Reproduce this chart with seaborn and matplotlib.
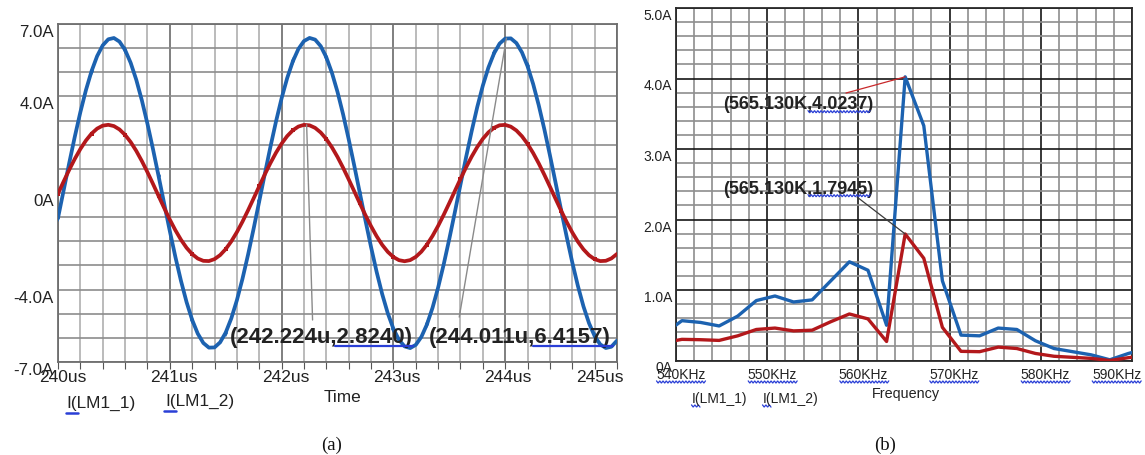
import numpy as np
import matplotlib
matplotlib.use("Agg")
import matplotlib.pyplot as plt
from matplotlib.lines import Line2D
from matplotlib.ticker import MultipleLocator
from matplotlib.transforms import offset_copy
import seaborn as sns

# ---------------- (a) transient currents, 50 ns sample step ----------------
t_us = np.linspace(240.0, 245.0, 101)
i_lm1_1 = [
    -1.036, 0.100, 1.233, 2.327, 3.349, 4.264, 5.046, 5.670, 6.115, 6.367,
    6.420, 6.270, 5.924, 5.392, 4.691, 3.840, 2.869, 1.809, 0.692, -0.448,
    -1.573, -2.649, -3.640, -4.519, -5.255, -5.825, -6.213, -6.405, -6.396, -6.186,
    -5.781, -5.194, -4.443, -3.555, -2.554, -1.472, -0.344, 0.794, 1.908, 2.962,
    3.923, 4.760, 5.447, 5.964, 6.293, 6.423, 6.353, 6.082, 5.620, 4.981,
    4.187, 3.260, 2.230, 1.132, -0.003, -1.138, -2.238, -3.266, -4.192, -4.986,
    -5.624, -6.084, -6.354, -6.423, -6.291, -5.961, -5.443, -4.755, -3.916, -2.956,
    -1.901, -0.788, 0.352, 1.479, 2.560, 3.561, 4.448, 5.199, 5.783, 6.188,
    6.396, 6.405, 6.211, 5.823, 5.251, 4.514, 3.635, 2.642, 1.565, 0.440,
    -0.699, -1.815, -2.876, -3.846, -4.696, -5.395, -5.927, -6.272, -6.420, -6.367,
    -6.113,
]
i_lm1_2 = [
    -0.026, 0.473, 0.958, 1.412, 1.822, 2.175, 2.460, 2.667, 2.790, 2.825,
    2.772, 2.632, 2.408, 2.110, 1.745, 1.324, 0.863, 0.374, -0.127, -0.624,
    -1.101, -1.543, -1.936, -2.270, -2.531, -2.714, -2.810, -2.819, -2.738, -2.572,
    -2.325, -2.004, -1.621, -1.187, -0.716, -0.221, 0.280, 0.772, 1.240, 1.669,
    2.045, 2.358, 2.596, 2.752, 2.822, 2.803, 2.697, 2.505, 2.235, 1.893,
    1.494, 1.046, 0.566, 0.069, -0.431, -0.918, -1.376, -1.790, -2.149, -2.439,
    -2.652, -2.783, -2.826, -2.780, -2.647, -2.430, -2.138, -1.778, -1.362, -0.903,
    -0.416, 0.085, 0.582, 1.061, 1.507, 1.905, 2.244, 2.512, 2.701, 2.805,
    2.821, 2.749, 2.590, 2.349, 2.034, 1.655, 1.226, 0.757, 0.264, -0.237,
    -0.731, -1.201, -1.634, -2.016, -2.334, -2.579, -2.742, -2.820, -2.808, -2.709,
    -2.524,
]
# cursor readouts: (time, value) and where each label's leader ends
cursor_a_t = [242.224, 244.011]
cursor_a_val = [2.8240, 6.4157]
cursor_a_text = ["(242.224u,2.8240)", "(244.011u,6.4157)"]
cursor_a_lead = [(242.277, -5.26), (243.589, -5.14)]
cursor_a_pos = [(241.536, -5.97), (243.32, -5.97)]

time_ticks = [240, 241, 242, 243, 244, 245]
time_tick_labels = ["240us", "241us", "242us", "243us", "244us", "245us"]
a_yticks = [-7, -4, 0, 4, 7]
a_ytick_labels = ["-7.0A", "-4.0A", "0A", "4.0A", "7.0A"]

# ---------------- (b) spectrum ----------------
freq_khz = [538.61, 540.65, 542.69, 544.73, 546.77, 548.81, 550.85, 552.89, 554.93,
            556.97, 559.01, 561.05, 563.09, 565.13, 567.17, 569.21, 571.25, 573.29,
            575.33, 577.37, 579.41, 581.45, 583.49, 585.53, 587.57, 589.61, 591.65]
amp_lm1_1 = [0.37, 0.565, 0.54, 0.49, 0.63, 0.85, 0.915, 0.83, 0.86,
             1.13, 1.40, 1.28, 0.50, 4.0237, 3.33, 1.13, 0.36, 0.35,
             0.46, 0.44, 0.28, 0.17, 0.125, 0.08, 0.01, 0.10, 0.17]
amp_lm1_2 = [0.25, 0.30, 0.295, 0.285, 0.35, 0.44, 0.46, 0.42, 0.43,
             0.55, 0.66, 0.59, 0.27, 1.7945, 1.45, 0.47, 0.13, 0.125,
             0.19, 0.17, 0.10, 0.06, 0.045, 0.03, 0.0, 0.04, 0.07]
cursor_b_f = [565.130, 565.130]
cursor_b_val = [4.0237, 1.7945]
cursor_b_text = ["(565.130K,4.0237)", "(565.130K,1.7945)"]
cursor_b_lead = [(558.64, 3.794), (559.85, 2.319)]
cursor_b_pos = [(545.15, 3.63), (545.15, 2.426)]

freq_ticks = [540, 550, 560, 570, 580, 590]
freq_tick_labels = ["540KHz", "550KHz", "560KHz", "570KHz", "580KHz", "590KHz"]
b_yticks = [0, 1, 2, 3, 4, 5]
b_ytick_labels = ["0A", "1.0A", "2.0A", "3.0A", "4.0A", "5.0A"]

# ---------------- styling ----------------
sns.set_theme(style="white")
plt.rcParams["font.family"] = ["Liberation Sans", "DejaVu Sans"]

BLUE = "#1c62b0"
RED = "#b3181b"
TXT = "#222222"
ULINE = "#2a3fd6"

W, H = 1145, 455
fig = plt.figure(figsize=(W / 100, H / 100), dpi=100)
fig.patch.set_facecolor("white")


def px_axes(x0, y0, x1, y1):
    return fig.add_axes([x0 / W, 1 - y1 / H, (x1 - x0) / W, (y1 - y0) / H])


def fig_line(xs, ys, **kw):
    xs = np.asarray(xs, float)
    ys = np.asarray(ys, float)
    fig.add_artist(Line2D(xs / W, 1 - ys / H, **kw))


def squiggle(x0, x1, y, color=ULINE, amp=1.1, step=1.6, lw=0.9):
    n = int((x1 - x0) / step) + 1
    xs = np.linspace(x0, x1, n)
    ys = y + amp * np.where(np.arange(n) % 2 == 0, -1.0, 1.0)
    fig_line(xs, ys, color=color, lw=lw, solid_joinstyle="miter")


def ytick_texts(ax, vals, labels, size, dx):
    tr = offset_copy(ax.get_yaxis_transform(), fig=fig, x=dx, y=-1, units="dots")
    for v, lab in zip(vals, labels):
        ax.text(0, v, lab, transform=tr, ha="right", va="top", fontsize=size,
                color=TXT, clip_on=False)


def xtick_texts(ax, vals, labels, size, dy, shifts):
    for v, lab, sh in zip(vals, labels, shifts):
        tr = offset_copy(ax.get_xaxis_transform(), fig=fig, x=sh, y=dy, units="dots")
        ax.text(v, 0, lab, transform=tr, ha="center", va="center", fontsize=size,
                color=TXT, clip_on=False)


# ================= panel (a) =================
axa = px_axes(58, 24, 617, 362)
axa.set_xlim(240, 245)
axa.set_ylim(-7, 7)
axa.xaxis.set_major_locator(MultipleLocator(1))
axa.xaxis.set_minor_locator(MultipleLocator(0.2))
axa.set_yticks(a_yticks)
axa.yaxis.set_minor_locator(MultipleLocator(1))
axa.grid(which="major", axis="x", color="#6a6a6a", lw=1.2)
axa.grid(which="minor", axis="x", color="#a8a8a8", lw=1.1)
axa.grid(which="both", axis="y", color="#8c8c8c", lw=1.2)
axa.set_axisbelow(True)
axa.tick_params(axis="x", which="both", direction="out", length=5, width=0.8,
                color="#555555", labelbottom=False, bottom=True)
axa.tick_params(axis="y", which="both", length=0, labelleft=False)
for s in axa.spines.values():
    s.set_color("#6e6e6e")
    s.set_linewidth(1.3)

sns.lineplot(x=t_us, y=i_lm1_1, ax=axa, color=BLUE, lw=2.7, estimator=None,
             errorbar=None, marker="d", markersize=4, markeredgewidth=0,
             markevery=6, zorder=3)
sns.lineplot(x=t_us, y=i_lm1_2, ax=axa, color=RED, lw=2.7, estimator=None,
             errorbar=None, marker="s", markersize=3.5, markeredgewidth=0,
             markevery=6, zorder=4)
axa.set_xlabel("")
axa.set_ylabel("")

for (tt, vv), (lx, ly) in zip(zip(cursor_a_t, cursor_a_val), cursor_a_lead):
    axa.plot([tt, lx], [vv, ly], color="#8a8a8a", lw=1.0, zorder=5)
for txt, (px_, py_) in zip(cursor_a_text, cursor_a_pos):
    axa.text(px_, py_, txt, ha="left", va="center", fontsize=16,
             fontweight="bold", color=TXT, zorder=6)

ytick_texts(axa, a_yticks, a_ytick_labels, 12.2, -4)
xtick_texts(axa, time_ticks, time_tick_labels, 12.5, -15.5, [4.5, 4, 4, 3, 3, -17])

fig.text(66 / W, 1 - 403.5 / H, "I(LM1_1)", ha="left", va="center",
         fontsize=12.4, color=TXT)
fig.text(165 / W, 1 - 401.5 / H, "I(LM1_2)", ha="left", va="center",
         fontsize=12.4, color=TXT)
fig_line([66, 78], [412.5, 412.5], color=ULINE, lw=1.8)
fig_line([164, 176], [410.5, 410.5], color=ULINE, lw=1.8)
fig.text(342 / W, 1 - 398 / H, "Time", ha="center", va="center",
         fontsize=12.4, color=TXT)
fig_line([335, 413], [346, 346], color=ULINE, lw=1.6, zorder=10)
fig_line([533, 613], [346, 346], color=ULINE, lw=1.6, zorder=10)

# ================= panel (b) =================
axb = px_axes(676, 8, 1132, 360.5)
axb.set_xlim(540, 590)
axb.set_ylim(0, 5)
axb.xaxis.set_major_locator(MultipleLocator(10))
axb.xaxis.set_minor_locator(MultipleLocator(2))
axb.yaxis.set_major_locator(MultipleLocator(1))
axb.yaxis.set_minor_locator(MultipleLocator(0.2))
axb.grid(which="minor", color="#8e8e8e", lw=1.2)
axb.grid(which="major", color="#151515", lw=1.2)
axb.set_axisbelow(True)
axb.tick_params(axis="both", which="both", length=0, labelbottom=False,
                labelleft=False)
for s in axb.spines.values():
    s.set_color("#2a2a2a")
    s.set_linewidth(1.3)

sns.lineplot(x=freq_khz, y=amp_lm1_1, ax=axb, color=BLUE, lw=2.4,
             estimator=None, errorbar=None, zorder=3)
sns.lineplot(x=freq_khz, y=amp_lm1_2, ax=axb, color=RED, lw=2.4,
             estimator=None, errorbar=None, zorder=4)
axb.set_xlabel("")
axb.set_ylabel("")

lead_cols = ["#c8282a", "#3a3a3a"]
for (ff, vv), (lx, ly), lc in zip(zip(cursor_b_f, cursor_b_val), cursor_b_lead, lead_cols):
    axb.plot([lx, ff], [ly, vv], color=lc, lw=0.9, zorder=5)
for txt, (px_, py_) in zip(cursor_b_text, cursor_b_pos):
    axb.text(px_, py_, txt, ha="left", va="center", fontsize=13,
             fontweight="bold", color=TXT, zorder=6)

ytick_texts(axb, b_yticks, b_ytick_labels, 10, -4)
xtick_texts(axb, freq_ticks, freq_tick_labels, 10, -14.5, [5, 5, 5, 5, 4, -15])

# spell-check style underlines below the frequency labels and cursor values
for cx in [681, 772.7, 864.3, 954.3, 1045.7, 1116.7]:
    squiggle(cx - 24.5, cx + 24.5, 382)
squiggle(808, 870, 111.7)
squiggle(808, 870, 195.7)
squiggle(691.5, 700, 406)
squiggle(762.5, 771, 406)

fig.text(691.5 / W, 1 - 399 / H, "I(LM1_1)", ha="left", va="center",
         fontsize=10, color=TXT)
fig.text(762.5 / W, 1 - 399 / H, "I(LM1_2)", ha="left", va="center",
         fontsize=10, color=TXT)
fig.text(906 / W, 1 - 394 / H, "Frequency", ha="center", va="center",
         fontsize=10.4, color=TXT)

fig.text(332 / W, 1 - 445 / H, "(a)", ha="center", va="center", fontsize=13.5,
         color="#111111", family=["Liberation Serif", "DejaVu Serif"])
fig.text(885 / W, 1 - 445 / H, "(b)", ha="center", va="center", fontsize=13.5,
         color="#111111", family=["Liberation Serif", "DejaVu Serif"])

fig.savefig("out.png", dpi=100, facecolor="white")
